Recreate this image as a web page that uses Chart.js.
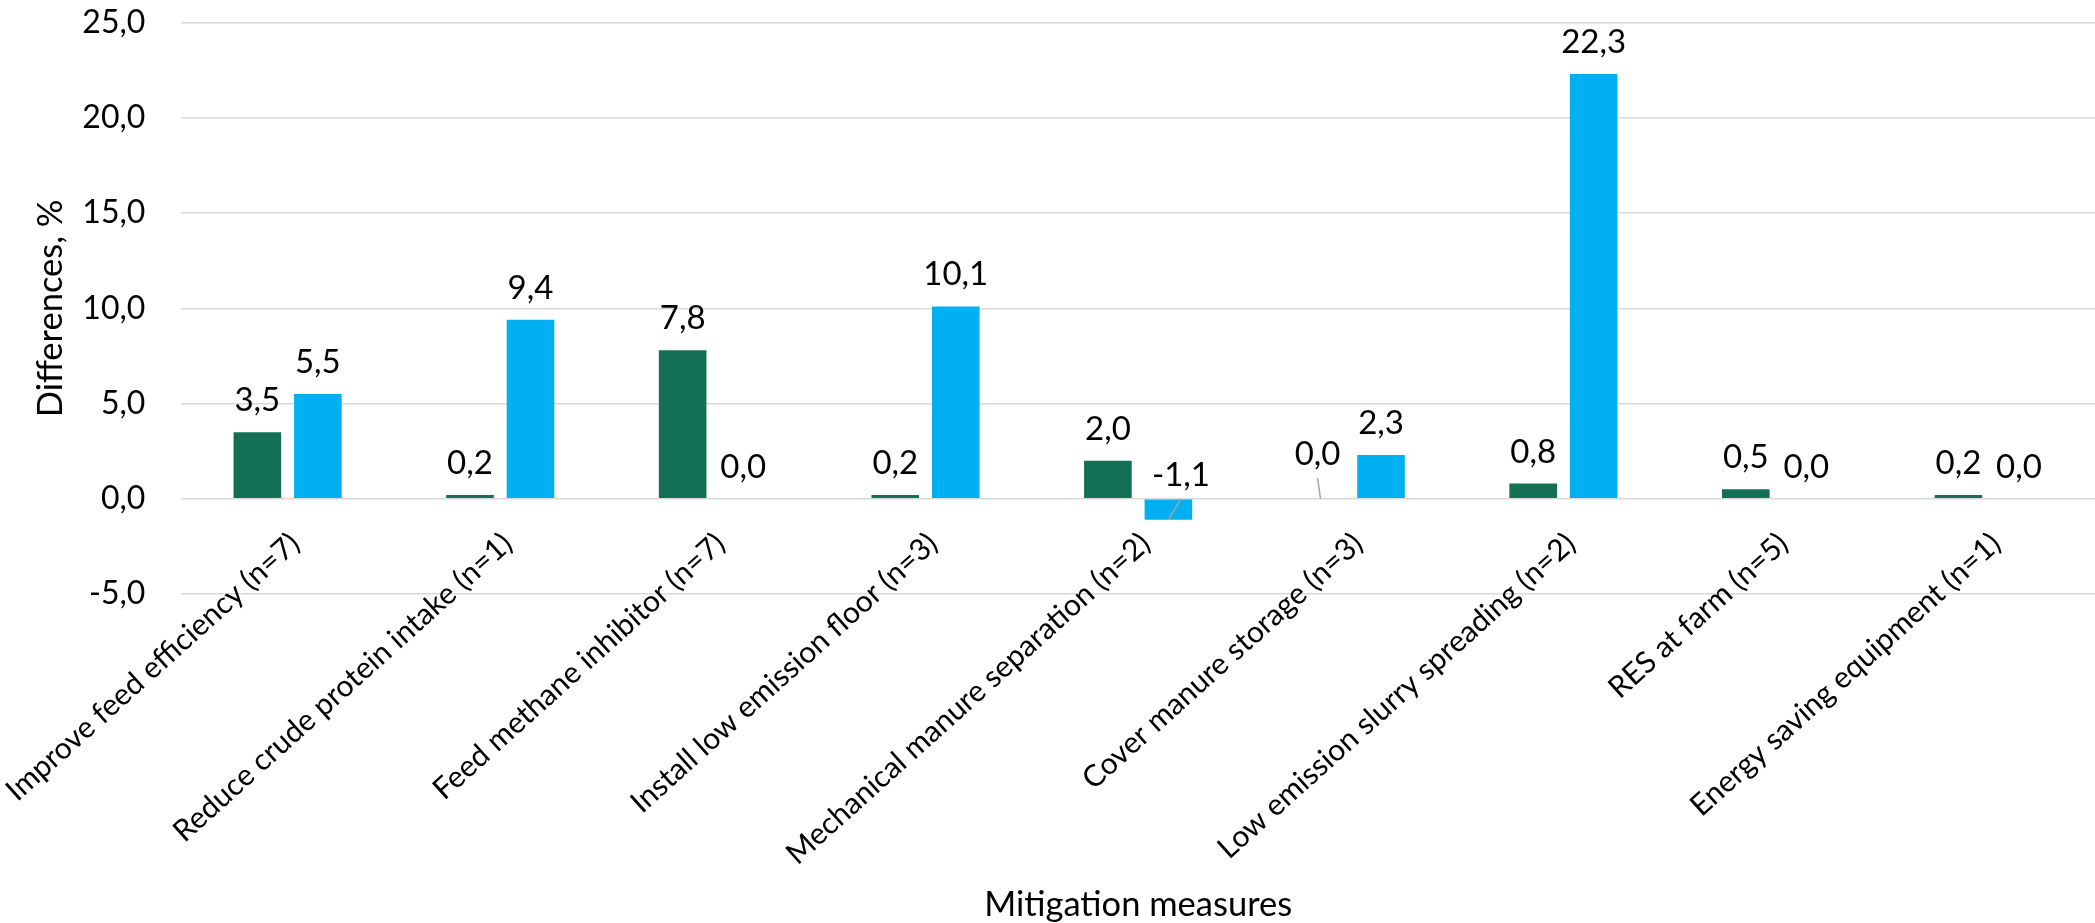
<!DOCTYPE html>
<html>
<head>
<meta charset="utf-8">
<title>Mitigation measures – differences</title>
<script src="https://cdn.jsdelivr.net/npm/chart.js@4.4.1/dist/chart.umd.min.js"></script>
<style>
  html, body { margin: 0; padding: 0; background: #ffffff; overflow: hidden; }
  #wrap { position: relative; width: 2095px; height: 923px; }
</style>
</head>
<body>
<div id="wrap"><canvas id="chart"></canvas></div>
<script>
// Mitigation measures and the two series of differences (%)
const categories = [
  'Improve feed efficiency (n=7)',
  'Reduce crude protein intake (n=1)',
  'Feed methane inhibitor (n=7)',
  'Install low emission floor (n=3)',
  'Mechanical manure separation (n=2)',
  'Cover manure storage (n=3)',
  'Low emission slurry spreading (n=2)',
  'RES at farm (n=5)',
  'Energy saving equipment (n=1)'
];
const seriesGreen = [3.5, 0.2, 7.8, 0.2, 2.0, 0.0, 0.8, 0.5, 0.2];
const seriesBlue = [5.5, 9.4, 0.0, 10.1, -1.1, 2.3, 22.3, 0.0, 0.0];
const yTickValues = [-5, 0, 5, 10, 15, 20, 25];

// Value labels that sit away from their bar, with a leader line back to it
const labelNudges = {
  '1:4': { dx: 12.5, dy: 7.3, leader: true },
  '0:5': { dx: -3, dy: -12.7, leader: true }
};

const fmt = v => v.toFixed(1).replace('.', ',');
const FONT = 'Lato';

const valueLabels = {
  id: 'valueLabels',
  afterDatasetsDraw(chart) {
    const ctx = chart.ctx;
    ctx.save();
    ctx.font = '33px ' + FONT;
    ctx.fillStyle = '#000000';
    ctx.textAlign = 'center';
    ctx.textBaseline = 'alphabetic';
    chart.data.datasets.forEach((ds, di) => {
      const meta = chart.getDatasetMeta(di);
      meta.data.forEach((bar, i) => {
        const nudge = labelNudges[di + ':' + i] || { dx: 0, dy: 0 };
        const x = bar.x + nudge.dx;
        const y = Math.min(bar.y, bar.base) - 21 + nudge.dy;
        if (nudge.leader) {
          ctx.beginPath();
          ctx.strokeStyle = '#a6a6a6';
          ctx.lineWidth = 1.5;
          ctx.moveTo(x, y + 13);
          ctx.lineTo(bar.x, bar.y);
          ctx.stroke();
        }
        ctx.fillText(fmt(ds.data[i]), x, y);
      });
    });
    ctx.restore();
  }
};

new Chart(document.getElementById('chart'), {
  type: 'bar',
  data: {
    labels: categories,
    datasets: [
      { label: 'Green', data: seriesGreen, backgroundColor: '#137055' },
      { label: 'Blue', data: seriesBlue, backgroundColor: '#00b0f0' }
    ]
  },
  options: {
    responsive: true,
    maintainAspectRatio: false,
    animation: false,
    categoryPercentage: 0.569,
    barPercentage: 0.787,
    layout: { padding: { left: 26.5, right: -16, top: 22.7, bottom: 329 } },
    plugins: {
      legend: { display: false },
      tooltip: { enabled: false }
    },
    scales: {
      x: {
        position: { y: 0 },
        grid: { display: false, drawTicks: false },
        border: { display: false },
        ticks: {
          autoSkip: false,
          minRotation: 42,
          maxRotation: 42,
          padding: 27,
          labelOffset: 7.5,
          color: '#000000',
          font: { family: FONT, size: 30 }
        },
        title: {
          display: true,
          text: 'Mitigation measures',
          color: '#000000',
          font: { family: FONT, size: 34.5 },
          padding: { top: 0, bottom: 4 }
        },
        afterFit(scale) {
          scale.height = 430.5;
          scale.paddingLeft = 0;
          scale.paddingRight = 0;
        }
      },
      y: {
        min: -5,
        max: 25,
        afterBuildTicks(scale) {
          scale.ticks = yTickValues.map(v => ({ value: v }));
        },
        grid: { color: '#d9d9d9', lineWidth: 1.5, drawTicks: false },
        border: { display: false },
        ticks: {
          padding: 36,
          color: '#000000',
          font: { family: FONT, size: 32 },
          callback: v => fmt(v)
        },
        title: {
          display: true,
          text: 'Differences, %',
          color: '#000000',
          font: { family: FONT, size: 34.5 },
          padding: { top: 4, bottom: 4 }
        },
        afterFit(scale) {
          scale.width = 154.8;
          scale.paddingTop = 0;
          scale.paddingBottom = 0;
        }
      }
    }
  },
  plugins: [valueLabels]
});
</script>
</body>
</html>
